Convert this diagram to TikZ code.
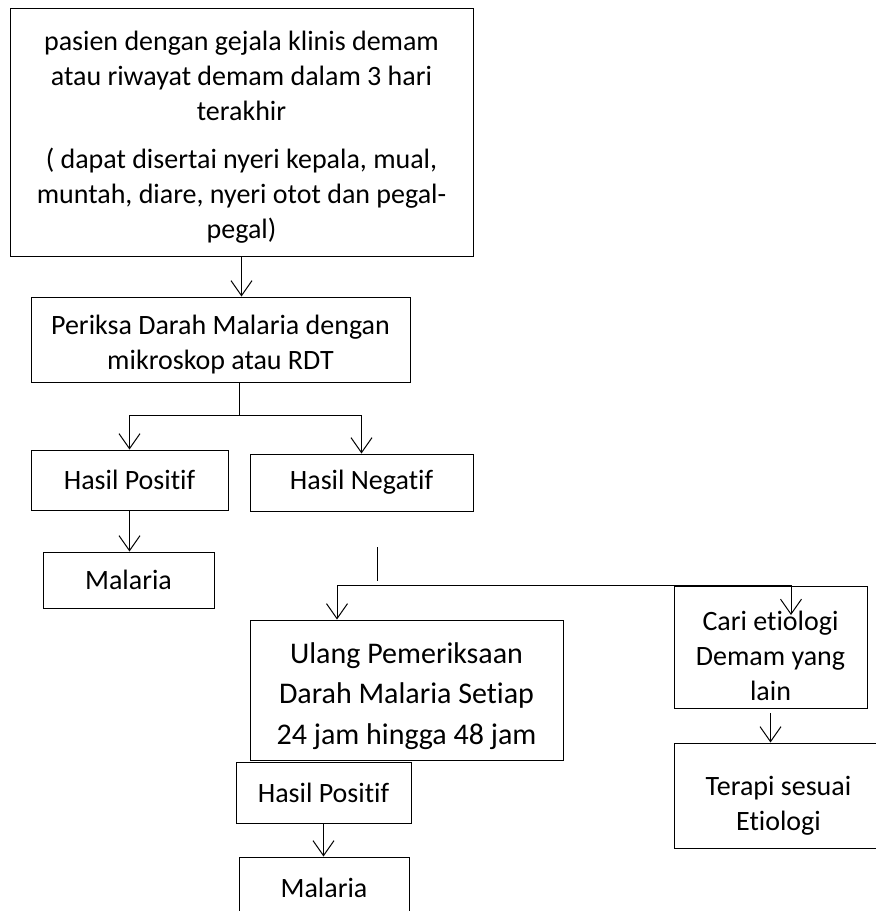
\documentclass[tikz,border=0pt]{standalone}
\usepackage{fontspec}
\setmainfont[RawFeature={-liga,-clig,-calt,-dlig}]{Carlito}
\usetikzlibrary{positioning, arrows.meta}
\newcommand{\boxpad}[1]{\rule{0pt}{#1pt}}

\begin{document}
\begin{tikzpicture}[x=1pt,y=-1pt,>={Straight Barb[length=15pt,width=21pt]},line width=1pt]
\tikzstyle{box}=[draw,rectangle,align=center,inner sep=0pt,font=\fontsize{28}{35}\selectfont]
\tikzstyle{bigbox}=[box,font=\fontsize{30}{40.5}\selectfont]
\useasboundingbox (0,0) rectangle (876,911);

  %--- nodes ---
  \node[box, minimum width=463, minimum height=248] (gejala) at (241.5,132)
    {\boxpad{29}pasien dengan gejala klinis demam\\atau riwayat demam dalam 3 hari\\terakhir\\[13pt]
     ( dapat disertai nyeri kepala, mual,\\muntah, diare, nyeri otot dan pegal-\\pegal)};
  \node[box, minimum width=379, minimum height=85] (periksa) at (220.5,339.5)
    {\boxpad{29}Periksa Darah Malaria dengan\\mikroskop atau RDT};
  \node[box, minimum width=197, minimum height=60] (positif1) at (129.5,480) {Hasil Positif};
  \node[box, minimum width=223, minimum height=57] (negatif) at (361.5,482.5) {Hasil Negatif};
  \node[box, minimum width=171, minimum height=56] (malaria1) at (128.5,580) {Malaria};
  \node[bigbox, minimum width=313, minimum height=140] (ulang) at (406.5,690)
    {\boxpad{33}Ulang Pemeriksaan\\Darah Malaria Setiap\\24 jam hingga 48 jam};
  \node[box, minimum width=193, minimum height=122] (cari) at (770.5,647.5)
    {\boxpad{37}Cari etiologi\\Demam yang\\lain};
  \node[box, minimum width=209, minimum height=105] (terapi) at (778.5,795.5)
    {\boxpad{39}Terapi sesuai\\Etiologi};
  \node[box, minimum width=175, minimum height=61] (positif2) at (323.5,792.5) {Hasil Positif};
  \node[box, minimum width=170, minimum height=62] (malaria2) at (324,888) {Malaria};

  %--- free ends ---
  \coordinate (split) at (239,415);
  \coordinate (stub) at (377,547);
  \coordinate (barL) at (337,585);
  \coordinate (barR) at (791,585);
  \coordinate (cariin) at (791,615);

  %--- connectors ---
  \draw[->] (gejala.south) -- (gejala.south |- periksa.north);
  \draw (periksa.south -| split) -- (split);
  \draw[->] (split) -| (positif1.north);
  \draw[->] (split) -| (negatif.north);
  \draw[->] (positif1.south) -- (positif1.south |- malaria1.north);
  \draw (stub) -- ++(0,34);
  \draw (barL) -- (barR);
  \draw[->] (barL) -- (barL |- ulang.north);
  \draw[->] (barR) -- (cariin);
  \draw[->] ([yshift=-4pt]cari.south) -- (cari.south |- terapi.north);
  \draw[->] (positif2.south) -- (positif2.south |- malaria2.north);
\end{tikzpicture}
\end{document}
